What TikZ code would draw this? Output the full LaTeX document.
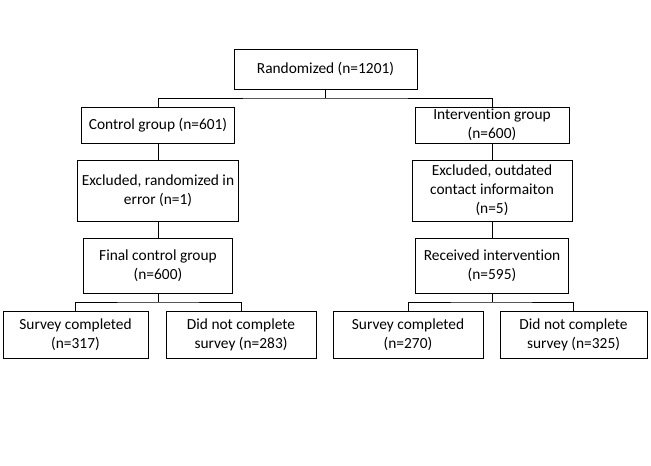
\documentclass[tikz,border=0pt]{standalone}
\usepackage{fontspec}
\setmainfont{Carlito}[Ligatures={NoCommon,NoContextual}]
\begin{document}
\begin{tikzpicture}[x=1pt,y=-1pt,
  box/.style={draw=black, line width=1pt, align=center, inner sep=1pt,
    font=\fontsize{15.4}{19}\selectfont},
  conn/.style={draw=black, line width=1pt}]
\useasboundingbox[fill=white] (0,0) rectangle (651,466);
\node[box, minimum width=183pt, minimum height=40pt] (rand) at (325.5,69) {Randomized (n=1201)};
\node[box, minimum width=153pt, minimum height=36pt] (ctrl) at (158,125) {Control group (n=601)};
\node[box, minimum width=154pt, minimum height=36pt] (int) at (492,125) {Intervention group\\(n=600)};
\node[box, minimum width=161pt, minimum height=61pt] (exl) at (158,190.5) {Excluded, randomized in\\error (n=1)};
\node[box, minimum width=160pt, minimum height=61pt] (exr) at (492,190.5) {Excluded, outdated\\contact informaiton\\(n=5)};
\node[box, minimum width=149pt, minimum height=55pt] (fin) at (158,265.5) {Final control group\\(n=600)};
\node[box, minimum width=153pt, minimum height=55pt] (rec) at (492,265.5) {Received intervention\\(n=595)};
\node[box, minimum width=145pt, minimum height=47pt] (b1) at (75.5,335) {Survey completed\\(n=317)};
\node[box, minimum width=150pt, minimum height=47pt] (b2) at (241,335) {Did not complete\\survey (n=283)};
\node[box, minimum width=150pt, minimum height=47pt] (b3) at (408,335) {Survey completed\\(n=270)};
\node[box, minimum width=147pt, minimum height=47pt] (b4) at (573.5,335) {Did not complete\\survey (n=325)};
\coordinate (jt) at (325.5,98);
\coordinate (jl) at (158,302);
\coordinate (jr) at (492,302);
\draw[conn] (rand.south) -- (jt);
\draw[conn] (ctrl.north) |- (jt) -| (int.north);
\draw[conn] (ctrl) -- (exl);
\draw[conn] (exl) -- (fin);
\draw[conn] (int) -- (exr);
\draw[conn] (exr) -- (rec);
\draw[conn] (fin.south) -- (jl);
\draw[conn] (b1.north) |- (jl) -| (b2.north);
\draw[conn] (rec.south) -- (jr);
\draw[conn] (b3.north) |- (jr) -| (b4.north);
\end{tikzpicture}
\end{document}
